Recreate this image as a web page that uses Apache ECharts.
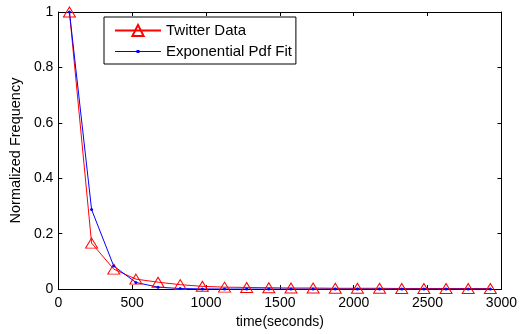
<!DOCTYPE html>
<html>
<head>
<meta charset="utf-8">
<script src="https://cdn.jsdelivr.net/npm/echarts@6/dist/echarts.min.js"></script>
<style>
  html, body { margin: 0; padding: 0; background: #fff; }
  #chart { width: 520px; height: 334px; }
</style>
</head>
<body>
<div id="chart"></div>
<script>
// bin centres (seconds)
const times = [75, 225, 375, 525, 675, 825, 975, 1125, 1275, 1425,
  1575, 1725, 1875, 2025, 2175, 2325, 2475, 2625, 2775, 2925];
const twitterData = [1, 0.166, 0.072, 0.036, 0.025, 0.016, 0.01, 0.007, 0.006, 0.005,
  0.004, 0.004, 0.003, 0.003, 0.003, 0.002, 0.002, 0.002, 0.002, 0.002];
const expFit = [1, 0.287, 0.083, 0.024, 0.007, 0.002, 0.0006, 0.0002, 0.00005, 0.00001,
  0, 0, 0, 0, 0, 0, 0, 0, 0, 0];
const xTicks = { min: 0, max: 3000, interval: 500 };
const yTicks = { min: 0, max: 1, interval: 0.2 };

const font = "'Liberation Sans', Arial, Helvetica, sans-serif";
const pair = (xs, ys) => xs.map((x, i) => [x, ys[i]]);

const frameAxis = {
  axisLine: { show: true, onZero: false, lineStyle: { color: '#000', width: 1 } },
  axisTick: { show: true, inside: true, length: 4, lineStyle: { color: '#000' } },
  splitLine: { show: false },
};

const chart = echarts.init(document.getElementById('chart'));
chart.setOption({
  animation: false,
  textStyle: { fontFamily: font },
  grid: { left: 56, right: 18, top: 12, bottom: 44 },
  legend: {
    left: 104,
    top: 17,
    orient: 'vertical',
    backgroundColor: '#fff',
    borderColor: '#000',
    borderWidth: 1,
    borderRadius: 0,
    padding: [6, 4, 5, 10],
    itemWidth: 46,
    itemHeight: 14,
    itemGap: 6,
    textStyle: { fontFamily: font, fontSize: 15, color: '#000' },
    data: [
      { name: 'Twitter Data' },
      // line + small dot as one path, sized to the 46x14 legend box
      { name: 'Exponential Pdf Fit', icon: 'path://M0,0M46,14M0,6.5h46v1h-46zM21.5,5.5h3v3h-3z' },
    ],
  },
  xAxis: [
    {
      type: 'value', ...xTicks, position: 'bottom', ...frameAxis,
      axisLabel: { color: '#000', fontSize: 14, margin: 7, fontFamily: font, formatter: v => String(v) },
      name: 'time(seconds)', nameLocation: 'middle', nameGap: 22,
      nameTextStyle: { color: '#000', fontSize: 14, fontFamily: font },
    },
    { type: 'value', ...xTicks, position: 'top', ...frameAxis, axisLabel: { show: false } },
  ],
  yAxis: [
    {
      type: 'value', ...yTicks, position: 'left', ...frameAxis,
      axisLabel: { color: '#000', fontSize: 14, margin: 5, fontFamily: font },
      name: 'Normalized Frequency', nameLocation: 'middle', nameGap: 33,
      nameTextStyle: { color: '#000', fontSize: 14.5, fontFamily: font },
    },
    { type: 'value', ...yTicks, position: 'right', ...frameAxis, axisLabel: { show: false } },
  ],
  series: [
    {
      name: 'Twitter Data',
      type: 'line',
      data: pair(times, twitterData),
      clip: false,
      symbol: 'triangle',
      symbolSize: [12, 10],
      lineStyle: { color: '#ff0000', width: 1 },
      itemStyle: { color: 'rgba(255,255,255,0)', borderColor: '#ff0000', borderWidth: 1 },
    },
    {
      name: 'Exponential Pdf Fit',
      type: 'line',
      data: pair(times, expFit),
      clip: false,
      symbol: 'circle',
      symbolSize: 3,
      lineStyle: { color: '#0000ff', width: 1 },
      itemStyle: { color: '#0000ff', borderWidth: 0 },
    },
  ],
});
</script>
</body>
</html>
